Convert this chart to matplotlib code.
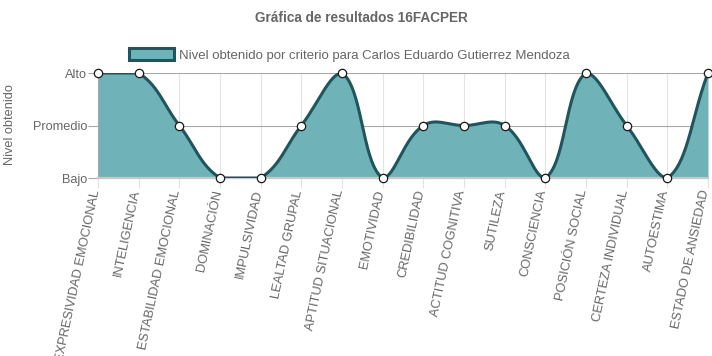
import numpy as np
import matplotlib.pyplot as plt
from matplotlib.patches import Patch

criterios = ['EXPRESIVIDAD EMOCIONAL', 'INTELIGENCIA', 'ESTABILIDAD EMOCIONAL',
             'DOMINACIÓN', 'IMPULSIVIDAD', 'LEALTAD GRUPAL', 'APTITUD SITUACIONAL',
             'EMOTIVIDAD', 'CREDIBILIDAD', 'ACTITUD COGNITIVA', 'SUTILEZA',
             'CONSCIENCIA', 'POSICIÓN SOCIAL', 'CERTEZA INDIVIDUAL', 'AUTOESTIMA',
             'ESTADO DE ANSIEDAD']
niveles = ['Bajo', 'Promedio', 'Alto']
valores = [3, 3, 2, 1, 1, 2, 3, 1, 2, 2, 2, 1, 3, 2, 1, 3]

titulo = 'Gráfica de resultados 16FACPER'
leyenda = 'Nivel obtenido por criterio para Carlos Eduardo Gutierrez Mendoza'

plt.rcParams['font.family'] = ['Liberation Sans', 'DejaVu Sans']

gris = '#666666'
relleno = '#6fb3b8'
linea = '#1f565d'

W, H = 712, 356
fig = plt.figure(figsize=(W / 100, H / 100), dpi=100)
ax = fig.add_axes([98 / W, 1 - 178 / H, 610 / W, 105 / H])

n = len(criterios)
x = np.arange(n)
ax.set_xlim(0, n - 1)
ax.set_ylim(1, 3)

# curva tipo chart.js (tension 0.4) calculada en pixeles
pts = ax.transData.transform(np.column_stack([x, valores]))
(xl, yb), (xr, yt) = ax.transData.transform([(0, 1), (n - 1, 3)])
tension = 0.4
cp_in, cp_out = [], []
for i in range(n):
    cur = pts[i]
    prev = pts[i - 1] if i > 0 else cur
    nxt = pts[i + 1] if i < n - 1 else cur
    d01 = np.hypot(*(cur - prev))
    d12 = np.hypot(*(nxt - cur))
    s = d01 + d12
    fa = tension * d01 / s if s else 0
    fb = tension * d12 / s if s else 0
    a = cur - fa * (nxt - prev)
    b = cur + fb * (nxt - prev)
    for c in (a, b):
        c[0] = min(max(c[0], xl), xr)
        c[1] = min(max(c[1], yb), yt)
    cp_in.append(a)
    cp_out.append(b)

t = np.linspace(0, 1, 60)[:, None]
seg = []
for i in range(n - 1):
    p0, p1, p2, p3 = pts[i], cp_out[i], cp_in[i + 1], pts[i + 1]
    seg.append((1 - t) ** 3 * p0 + 3 * (1 - t) ** 2 * t * p1 + 3 * (1 - t) * t ** 2 * p2 + t ** 3 * p3)
curva = ax.transData.inverted().transform(np.vstack(seg))

ax.fill_between(curva[:, 0], curva[:, 1], 1, color=relleno, lw=0, zorder=2)
ax.plot(curva[:, 0], curva[:, 1], color=linea, lw=2.2, zorder=3, solid_capstyle='round')
ax.plot(x, valores, 'o', ms=6, mfc='white', mec='#1a1a1a', mew=0.9, zorder=4, clip_on=False)

ax.set_yticks([1, 2, 3])
ax.set_yticklabels(niveles, color=gris, fontsize=9.2)
ax.set_xticks(x)
ax.set_xticklabels([])
for xi, lab in zip(x, criterios):
    ax.annotate(lab, (xi, 1), xytext=(-2, -12), textcoords='offset pixels',
                rotation=78, rotation_mode='anchor', ha='right', va='center',
                color=gris, fontsize=9.3, annotation_clip=False)

ax.tick_params(axis='y', length=7, width=0.8, color='#a8a8a8', pad=1)
ax.tick_params(axis='x', length=7, width=0.8, color='#e3e3e3')
ax.grid(axis='x', color='#e3e3e3', lw=0.8, zorder=1)
ax.grid(axis='y', color='#a8a8a8', lw=0.8, zorder=1)
for lado in ['top', 'right']:
    ax.spines[lado].set_visible(False)
ax.spines['left'].set_color('#a8a8a8')
ax.spines['left'].set_linewidth(0.8)
ax.spines['bottom'].set_color('#c8c8c8')
ax.spines['bottom'].set_linewidth(1.6)

fig.text(10 / W, 1 - 125 / H, 'Nivel obtenido', rotation=90, ha='center', va='center',
         color=gris, fontsize=9.2)
fig.text(361 / W, 1 - 18 / H, titulo, ha='center', va='center', color=gris,
         fontsize=9.8, weight='bold')

fig.legend(handles=[Patch(facecolor=relleno, edgecolor=linea, lw=2.2)], labels=[leyenda],
           loc='center left', bbox_to_anchor=(129 / W, 1 - 55 / H), frameon=False,
           handlelength=45 / 13.2, handleheight=13 / 13.2, handletextpad=0.35,
           borderpad=0, borderaxespad=0, prop={'size': 9.5},
           labelcolor=gris)

fig.savefig('out.png', dpi=100)
